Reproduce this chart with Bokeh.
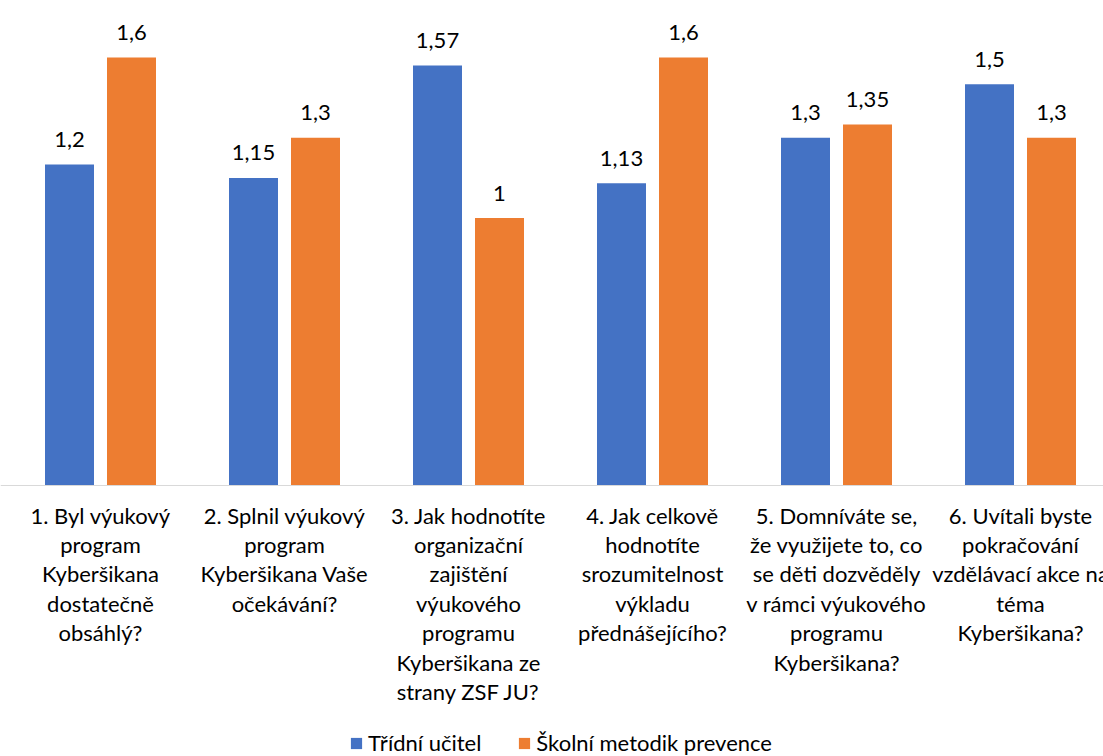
from bokeh.plotting import figure
from bokeh.models import Range1d, ColumnDataSource, Span, Legend, LegendItem
from bokeh.core.properties import value
from bokeh.embed import file_html
from bokeh.resources import INLINE

# ---- data ----
categories = [
    "1. Byl výukový\nprogram\nKyberšikana\ndostatečně\nobsáhlý?",
    "2. Splnil výukový\nprogram\nKyberšikana Vaše\nočekávání?",
    "3. Jak hodnotíte\norganizační\nzajištění\nvýukového\nprogramu\nKyberšikana ze\nstrany ZSF JU?",
    "4. Jak celkově\nhodnotíte\nsrozumitelnost\nvýkladu\npřednášejícího?",
    "5. Domníváte se,\nže využijete to, co\nse děti dozvěděly\nv rámci výukového\nprogramu\nKyberšikana?",
    "6. Uvítali byste\npokračování\nvzdělávací akce na\ntéma\nKyberšikana?",
]
series_names = ["Třídní učitel", "Školní metodik prevence"]
tridni_ucitel = [1.2, 1.15, 1.57, 1.13, 1.3, 1.5]
skolni_metodik = [1.6, 1.3, 1.0, 1.6, 1.35, 1.3]
colors = ["#4472C4", "#ED7D31"]

# ---- layout parameters ----
W, H = 1103, 756
LEFT_PX = 8.0           # plot area starts here
CAT_PX = 184.0          # width of one category in pixels
BASE_FROM_TOP = 485.0   # baseline position from figure top
PX_PER_UNIT = 267.5
BAR_PX = 49.0
OFFSET_PX = 31.0
FONT = "Lato"
FS = "22px"

def fmt(v):
    return ("%g" % v).replace(".", ",")

centers = [i + 0.5 for i in range(len(categories))]
bw = BAR_PX / CAT_PX
off = OFFSET_PX / CAT_PX

p = figure(width=W, height=H, output_backend="svg", toolbar_location=None,
           x_range=Range1d(-LEFT_PX / CAT_PX, (W - LEFT_PX) / CAT_PX),
           y_range=Range1d(-(H - BASE_FROM_TOP) / PX_PER_UNIT, BASE_FROM_TOP / PX_PER_UNIT),
           min_border=0)
p.axis.visible = False
p.grid.visible = False
p.outline_line_color = None
p.background_fill_color = "white"
p.border_fill_color = "white"

renderers = []
for k, (vals, col) in enumerate(zip([tridni_ucitel, skolni_metodik], colors)):
    xs = [c + (-off if k == 0 else off) for c in centers]
    src = ColumnDataSource(dict(x=xs, top=vals, lab=[fmt(v) for v in vals]))
    r = p.vbar(x="x", top="top", bottom=0, width=bw, source=src,
               fill_color=col, line_color=None)
    renderers.append(r)
    p.text(x="x", y="top", text="lab", source=src, text_align="center",
           text_baseline="alphabetic", y_offset=-25,
           text_font=value(FONT), text_font_size=FS, text_color="#000000")

p.add_layout(Span(location=0, dimension="width", line_color="#D9D9D9", line_width=1))

csrc = ColumnDataSource(dict(x=centers, y=[0] * len(categories), t=categories))
p.text(x="x", y="y", text="t", source=csrc, text_align="center", text_baseline="top",
       y_offset=16, text_font=value(FONT), text_font_size=FS,
       text_line_height=1.09, text_color="#000000")

legend = Legend(items=[LegendItem(label=n, renderers=[r]) for n, r in zip(series_names, renderers)],
                orientation="horizontal", location=(349, 0),
                glyph_width=14, glyph_height=14, label_standoff=5, spacing=36,
                padding=0, margin=0, border_line_color=None, background_fill_alpha=0,
                label_text_font=FONT, label_text_font_size=FS, label_text_color="#000000",
                label_height=22)
p.add_layout(legend, "center")

open("out.html", "w").write(file_html(p, INLINE))
